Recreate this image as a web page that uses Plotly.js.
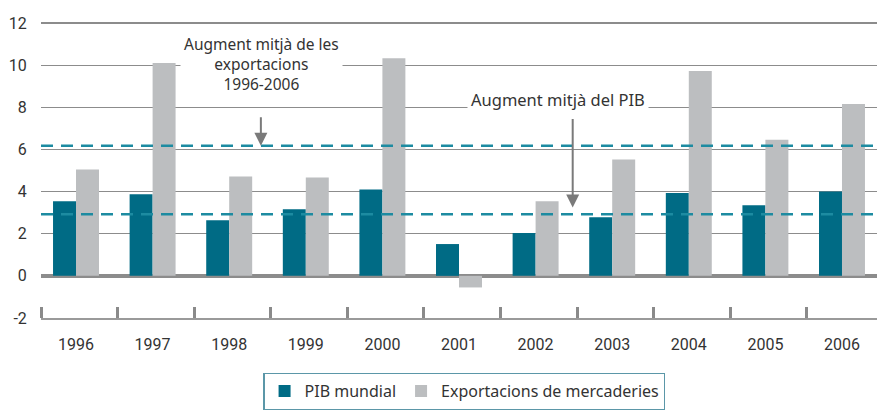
<!DOCTYPE html>
<html>
<head>
<meta charset="utf-8">
<script src="https://cdn.plot.ly/plotly-3.0.1.min.js"></script>
<style>html,body{margin:0;padding:0;background:#fff;}#chart{width:877px;height:410px;}</style>
</head>
<body>
<div id="chart"></div>
<script>
const years = ['1996','1997','1998','1999','2000','2001','2002','2003','2004','2005','2006'];
const pibMundial = [3.54, 3.87, 2.64, 3.16, 4.10, 1.51, 2.03, 2.78, 3.93, 3.35, 4.01];
const exportacions = [5.05, 10.1, 4.72, 4.67, 10.33, -0.55, 3.54, 5.52, 9.72, 6.46, 8.16];
const mitjaExportacions = 6.18;
const mitjaPIB = 2.92;
const seriesNames = ['PIB mundial', 'Exportacions de mercaderies'];
const yTicks = [-2, 0, 2, 4, 6, 8, 10, 12];

const idx = years.map((_, i) => i);
const teal = '#006b85';
const grey = '#bcbec0';
const dashTeal = '#1d8ba1';
const textCol = '#333333';
const annFont = {family: 'Noto Sans, Open Sans, sans-serif', size: 16.5, color: textCol};
const annFont2 = {family: 'Noto Sans, Open Sans, sans-serif', size: 15.5, color: textCol};

const traces = [
  {type: 'bar', x: idx, y: pibMundial, name: seriesNames[0], marker: {color: teal}, hoverinfo: 'skip'},
  {type: 'bar', x: idx, y: exportacions, name: seriesNames[1], marker: {color: grey}, hoverinfo: 'skip'}
];

const layout = {
  width: 877, height: 410,
  margin: {l: 41, r: 0, t: 22, b: 92, pad: 0},
  paper_bgcolor: '#fff', plot_bgcolor: '#fff',
  barmode: 'group', bargap: 0.4, bargroupgap: 0,
  showlegend: true,
  font: {family: 'Roboto, sans-serif', size: 16, color: textCol},
  xaxis: {
    range: [-0.457, 10.457],
    tickmode: 'array', tickvals: idx, ticktext: years,
    ticks: '', showgrid: false, zeroline: false,
    showline: true, linecolor: '#9a9a9a', linewidth: 1.5,
    ticklabelstandoff: 11,
    tickfont: {family: 'Roboto, sans-serif', size: 16, color: textCol},
    minor: {tick0: -0.457, dtick: 1, ticks: 'inside', ticklen: 11, tickwidth: 3, tickcolor: '#8a8a8a', showgrid: false}
  },
  yaxis: {
    range: [-2, 12.05],
    tickmode: 'array', tickvals: yTicks, ticktext: yTicks.map(v => v < 0 ? '-' + Math.abs(v) : String(v)),
    showgrid: true, gridcolor: '#8c8c8c', gridwidth: 1.3,
    zeroline: true, zerolinecolor: '#8c8c8c', zerolinewidth: 3.5,
    showline: false, ticks: 'outside', ticklen: 10, tickcolor: 'rgba(0,0,0,0)',
    tickfont: {family: 'Roboto, sans-serif', size: 16, color: textCol}
  },
  legend: {
    orientation: 'h', x: 0.266, xanchor: 'left', y: -0.186, yanchor: 'top',
    bordercolor: '#5b97a8', borderwidth: 1.2, bgcolor: '#fff',
    font: {family: 'Noto Sans, Open Sans, sans-serif', size: 16, color: textCol},
    itemwidth: 30, traceorder: 'normal'
  },
  shapes: [
    {type: 'line', xref: 'paper', x0: 0, x1: 1, yref: 'y', y0: mitjaExportacions, y1: mitjaExportacions,
     line: {color: dashTeal, width: 2.5, dash: '12px,8px'}},
    {type: 'line', xref: 'paper', x0: 0, x1: 1, yref: 'y', y0: mitjaPIB, y1: mitjaPIB,
     line: {color: dashTeal, width: 2.5, dash: '12px,8px'}}
  ],
  annotations: [
    {xref: 'paper', x: 0.264, xanchor: 'center', yref: 'y', y: 10.05, yanchor: 'middle',
     text: 'Augment mitjà de les<br>exportacions<br>1996-2006',
     showarrow: false, font: annFont2, bgcolor: '#fff', borderpad: 3, align: 'center'},
    {xref: 'paper', x: 0.618, xanchor: 'center', yref: 'y', y: 8.37, yanchor: 'middle', text: 'Augment mitjà del PIB',
     showarrow: false, font: annFont, bgcolor: '#fff', borderpad: 3},
    {xref: 'paper', x: 0.263, yref: 'y', y: mitjaExportacions, text: '', showarrow: true,
     ax: 0, ay: -30, arrowhead: 2, arrowsize: 1.3, arrowwidth: 2, arrowcolor: '#7a7a7a'},
    {xref: 'paper', x: 0.636, yref: 'y', y: 3.24, text: '', showarrow: true,
     ax: 0, ay: -90, arrowhead: 2, arrowsize: 1.3, arrowwidth: 2, arrowcolor: '#7a7a7a'}
  ]
};

Plotly.newPlot('chart', traces, layout, {staticPlot: true, displayModeBar: false});
</script>
</body>
</html>
